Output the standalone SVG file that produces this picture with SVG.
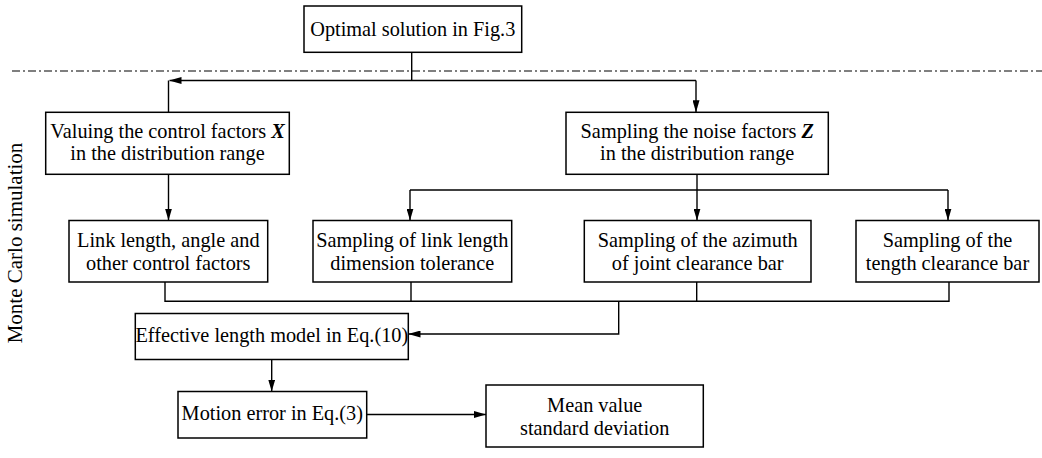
<svg xmlns="http://www.w3.org/2000/svg" width="1042" height="458" viewBox="0 0 1042 458">
<defs>
<marker id="arr" markerUnits="userSpaceOnUse" markerWidth="12" markerHeight="7" refX="12" refY="3.5" orient="auto">
<path d="M0,0 L12,3.5 L0,7 z" fill="#000"/>
</marker>
<style>
.box{fill:#fff;stroke:#000;stroke-width:1.5}
.t{font-family:"Liberation Serif","Times New Roman",serif;font-size:20.3px;fill:#000;text-anchor:middle}
.v{font-weight:bold;font-style:italic}
.c{fill:none;stroke:#000;stroke-width:1.4}
.a{marker-end:url(#arr)}
.dd{fill:none;stroke:#000;stroke-width:1.2;stroke-dasharray:8 3 2 3}
</style>
</defs>
<rect width="1042" height="458" fill="#fff"/>
<path class="dd" d="M12,71 H1042"/>
<g id="connectors">
<path class="c" d="M411.7,52.3 V80.5"/>
<path class="c a" d="M696,80.5 H169.5"/>
<path class="c" d="M168.5,80.5 V112.3"/>
<path class="c a" d="M696,80.5 V112.3"/>
<path class="c a" d="M168.5,174.3 V220.5"/>
<path class="c a" d="M697,174.3 V220.5"/>
<path class="c" d="M410,190 H948"/>
<path class="c a" d="M410,190 V220.5"/>
<path class="c a" d="M948,190 V220.5"/>
<path class="c" d="M165,282 V301.3 H949 V282"/>
<path class="c" d="M411,282 V301.3"/>
<path class="c" d="M696.7,282 V301.3"/>
<path class="c a" d="M618.7,301.3 V334 H408.5"/>
<path class="c a" d="M271.7,359.5 V391.5"/>
<path class="c a" d="M366.7,414.5 H486"/>
</g>
<g id="n_optimal">
<rect class="box" x="304" y="6" width="217.7" height="46.3"/>
<text class="t" x="412.8" y="35.5">Optimal solution in Fig.3</text>
</g>
<g id="n_control">
<rect class="box" x="45.7" y="112.3" width="243.6" height="62"/>
<text class="t" x="167.5" y="137.5">Valuing the control factors <tspan class="v">X</tspan></text>
<text class="t" x="167.5" y="159.5">in the distribution range</text>
</g>
<g id="n_noise">
<rect class="box" x="566" y="112.3" width="262.3" height="62"/>
<text class="t" x="697.2" y="137.5">Sampling the noise factors <tspan class="v">Z</tspan></text>
<text class="t" x="697.2" y="159.5">in the distribution range</text>
</g>
<g id="n_link">
<rect class="box" x="69" y="220.5" width="198.7" height="61.5"/>
<text class="t" x="168.3" y="247">Link length, angle and</text>
<text class="t" x="168.3" y="269.5">other control factors</text>
</g>
<g id="n_tolerance">
<rect class="box" x="313" y="220.5" width="198.7" height="61.5"/>
<text class="t" x="412.3" y="247">Sampling of link length</text>
<text class="t" x="412.3" y="269.5">dimension tolerance</text>
</g>
<g id="n_azimuth">
<rect class="box" x="584.3" y="220.5" width="226.7" height="61.5"/>
<text class="t" x="697.7" y="247">Sampling of the azimuth</text>
<text class="t" x="697.7" y="269.5">of joint clearance bar</text>
</g>
<g id="n_tength">
<rect class="box" x="856" y="220.5" width="183" height="61.5"/>
<text class="t" x="947.5" y="247">Sampling of the</text>
<text class="t" x="947.5" y="269.5">tength clearance bar</text>
</g>
<g id="n_effective">
<rect class="box" x="135.3" y="313.5" width="273" height="46"/>
<text class="t" x="271.8" y="342">Effective length model in Eq.(10)</text>
</g>
<g id="n_motion">
<rect class="box" x="178" y="391.5" width="188.7" height="46.5"/>
<text class="t" x="272.3" y="420">Motion error in Eq.(3)</text>
</g>
<g id="n_mean">
<rect class="box" x="486" y="385" width="217.3" height="62"/>
<text class="t" x="594.7" y="411.5">Mean value</text>
<text class="t" x="594.7" y="435">standard deviation</text>
</g>
<g id="label_mc">
<text class="t" style="font-size:21px" transform="translate(21.5,243) rotate(-90)">Monte Carlo simulation</text>
</g>
</svg>
